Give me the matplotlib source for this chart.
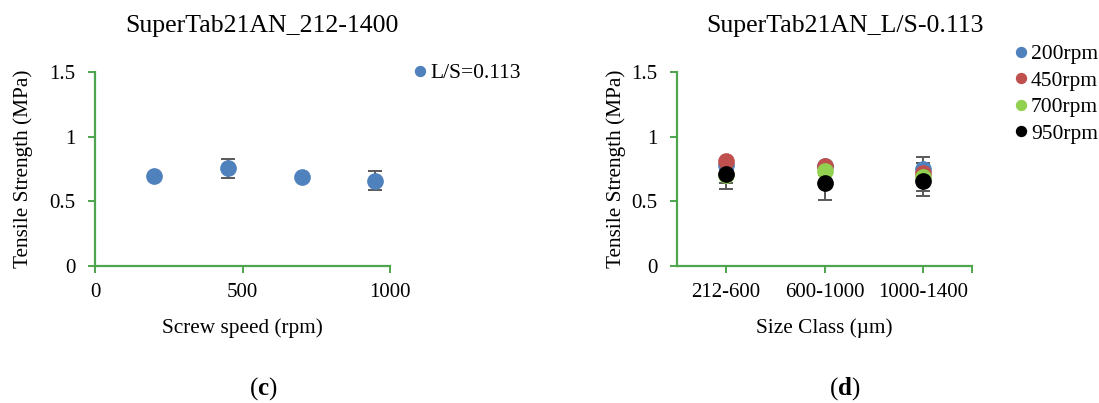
import matplotlib
matplotlib.use("Agg")
import matplotlib.pyplot as plt

plt.rcParams['font.family'] = ['Liberation Serif', 'DejaVu Serif']
plt.rcParams['mathtext.fontset'] = 'custom'
plt.rcParams['mathtext.bf'] = 'Liberation Serif:bold'
plt.rcParams['mathtext.rm'] = 'Liberation Serif'

# panel (c): tensile strength vs screw speed
speed = [200, 450, 700, 950]
ts_speed = [0.695, 0.755, 0.688, 0.660]
err_speed = [0.010, 0.072, 0.010, 0.073]

# panel (d): tensile strength vs size class
size_classes = ['212-600', '600-1000', '1000-1400']
series_names = ['200rpm', '450rpm', '700rpm', '950rpm']
ts_200 = [0.780, 0.770, 0.753]
ts_450 = [0.810, 0.775, 0.719]
ts_700 = [0.700, 0.732, 0.688]
ts_950 = [0.714, 0.644, 0.654]
err_200 = [0.030, 0.020, 0.089]
err_450 = [0.020, 0.020, 0.030]
err_700 = [0.060, 0.030, 0.111]
err_950 = [0.116, 0.131, 0.115]

colors = ['#4F81BD', '#C0504D', '#92D050', '#000000']
axis_green = '#4DA64D'
err_grey = '#595959'

W, H = 1099, 403
fig = plt.figure(figsize=(W / 100, H / 100), dpi=100)


def px(x0, y0, x1, y1):
    # pixel box (top-left origin) -> figure fraction rect
    return [x0 / W, 1 - y1 / H, (x1 - x0) / W, (y1 - y0) / H]


def style_axes(ax):
    for s in ['top', 'right']:
        ax.spines[s].set_visible(False)
    for s in ['left', 'bottom']:
        ax.spines[s].set_color(axis_green)
        ax.spines[s].set_linewidth(1.6)
    ax.tick_params(axis='both', direction='out', length=5, width=1.4,
                   color=axis_green, labelsize=15)
    ax.tick_params(axis='y', pad=9)
    ax.tick_params(axis='x', pad=7)
    ax.set_ylim(0, 1.5)
    ax.set_yticks([0, 0.5, 1, 1.5])
    ax.set_yticklabels(['0', '0.5', '1', '1.5'])
    ax.set_ylabel('Tensile Strength (MPa)', fontsize=15.3)


# ---- left panel (c)
ax1 = fig.add_axes(px(95, 72, 390, 266))
style_axes(ax1)
ax1.errorbar(speed, ts_speed, yerr=err_speed, fmt='none', ecolor=err_grey,
             elinewidth=1.4, capsize=5, capthick=1.4, zorder=2)
ax1.plot(speed, ts_speed, 'o', color=colors[0], markersize=11,
         label='L/S=0.113', zorder=3, clip_on=False)
ax1.set_xlim(0, 1000)
ax1.set_xticks([0, 500, 1000])
ax1.set_xlabel('Screw speed (rpm)', fontsize=15.3, labelpad=12)
ax1.yaxis.set_label_coords((33 - 95) / 295, 0.5)
ax1.legend(loc='center left', bbox_to_anchor=(415 / W, 1 - 73 / H),
           bbox_transform=fig.transFigure, frameon=False, fontsize=15.5,
           handlelength=0.5, handletextpad=0.2, markerscale=0.65,
           borderpad=0, borderaxespad=0)
fig.text(262 / W, 1 - 26 / H, 'SuperTab21AN_212-1400', ha='center', va='center',
         fontsize=18.5)

# ---- right panel (d)
ax2 = fig.add_axes(px(677, 72, 972, 266))
style_axes(ax2)
xpos = [1, 2, 3]
all_ts = [ts_200, ts_450, ts_700, ts_950]
all_err = [err_200, err_450, err_700, err_950]
for vals, errs in zip(all_ts, all_err):
    ax2.errorbar(xpos, vals, yerr=errs, fmt='none', ecolor=err_grey,
                 elinewidth=1.4, capsize=5, capthick=1.4, zorder=2)
for vals, c, name in zip(all_ts, colors, series_names):
    ax2.plot(xpos, vals, 'o', color=c, markersize=11, label=name, zorder=3)
ax2.set_xlim(0.5, 3.5)
ax2.set_xticks([1, 2, 3, 3.5])
ax2.set_xticklabels(size_classes + [''])
ax2.set_xlabel('Size Class (\u00b5m)', fontsize=15.3, labelpad=12)
ax2.yaxis.set_label_coords((626 - 677) / 295, 0.5)
ax2.legend(loc='upper left', bbox_to_anchor=(1016 / W, 1 - 44 / H),
           bbox_transform=fig.transFigure, frameon=False, fontsize=15.5,
           handlelength=0.5, handletextpad=0.2, markerscale=0.65,
           labelspacing=0.3, borderpad=0, borderaxespad=0)
fig.text(845 / W, 1 - 26 / H, 'SuperTab21AN_L/S-0.113', ha='center', va='center',
         fontsize=18.5)

# panel letters
fig.text(263 / W, 1 - 389 / H, r'($\mathbf{c}$)', ha='center', va='center', fontsize=18)
fig.text(845 / W, 1 - 389 / H, r'($\mathbf{d}$)', ha='center', va='center', fontsize=18)

fig.savefig('out.png', dpi=100, facecolor='white')
